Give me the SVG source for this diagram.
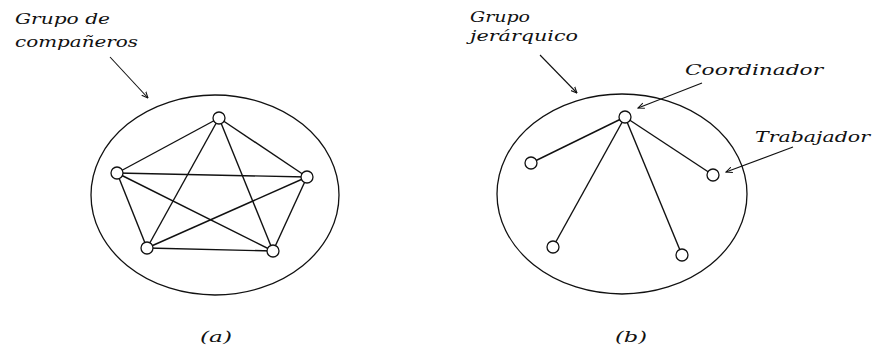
<svg xmlns="http://www.w3.org/2000/svg" width="874" height="349" viewBox="0 0 874 349">
<style>
.b{fill:none;stroke:#111;stroke-width:1.3}
.e{stroke:#111;stroke-width:1.4;fill:none}
.n{fill:#fff;stroke:#111;stroke-width:1.3}
.a{stroke:#111;stroke-width:1.1;fill:none;marker-end:url(#ah)}
text{font-family:"DejaVu Serif","Liberation Serif",serif;font-style:italic;font-size:15px;fill:#111}
</style>
<defs>
<marker id="ah" viewBox="0 0 10 10" refX="9" refY="5" markerWidth="7" markerHeight="7" orient="auto" markerUnits="userSpaceOnUse">
<path d="M0,1 L9,5 L0,9" fill="none" stroke="#111" stroke-width="1.5"/>
</marker>
</defs>
<rect width="874" height="349" fill="#fff"/>
<g id="groupA">
<ellipse class="b" cx="215" cy="195" rx="124" ry="100"/>
</g>
<g id="groupB">
<ellipse class="b" cx="622" cy="194" rx="125" ry="100"/>
</g>
<g id="connectors">
<line class="e" x1="219" y1="118" x2="117" y2="173"/>
<line class="e" x1="219" y1="118" x2="307" y2="177"/>
<line class="e" x1="219" y1="118" x2="147" y2="248"/>
<line class="e" x1="219" y1="118" x2="273" y2="251"/>
<line class="e" x1="117" y1="173" x2="307" y2="177"/>
<line class="e" x1="117" y1="173" x2="147" y2="248"/>
<line class="e" x1="117" y1="173" x2="273" y2="251"/>
<line class="e" x1="307" y1="177" x2="147" y2="248"/>
<line class="e" x1="307" y1="177" x2="273" y2="251"/>
<line class="e" x1="147" y1="248" x2="273" y2="251"/>
<line class="e" x1="625" y1="117" x2="531" y2="163"/>
<line class="e" x1="625" y1="117" x2="713" y2="175"/>
<line class="e" x1="625" y1="117" x2="553" y2="247"/>
<line class="e" x1="625" y1="117" x2="682" y2="255"/>
<line class="a" x1="110" y1="57" x2="148" y2="98"/>
<line class="a" x1="540" y1="55" x2="577" y2="93"/>
<line class="a" x1="702" y1="83" x2="638" y2="108"/>
<line class="a" x1="793" y1="147" x2="726" y2="172"/>
</g>
<g id="nodesA">
<circle id="a1" class="n" cx="219" cy="118" r="6"/>
<circle id="a2" class="n" cx="117" cy="173" r="6"/>
<circle id="a3" class="n" cx="307" cy="177" r="6"/>
<circle id="a4" class="n" cx="147" cy="248" r="6"/>
<circle id="a5" class="n" cx="273" cy="251" r="6"/>
</g>
<g id="nodesB">
<circle id="coord" class="n" cx="625" cy="117" r="6"/>
<circle id="b2" class="n" cx="531" cy="163" r="6"/>
<circle id="b3" class="n" cx="713" cy="175" r="6"/>
<circle id="b4" class="n" cx="553" cy="247" r="6"/>
<circle id="b5" class="n" cx="682" cy="255" r="6"/>
</g>
<g id="labels">
<text x="15" y="24" textLength="95" lengthAdjust="spacingAndGlyphs">Grupo de</text>
<text x="15" y="47" textLength="123" lengthAdjust="spacingAndGlyphs">compañeros</text>
<text x="470" y="22" textLength="60" lengthAdjust="spacingAndGlyphs">Grupo</text>
<text x="470" y="41" textLength="108" lengthAdjust="spacingAndGlyphs">jerárquico</text>
<text x="685" y="75" textLength="138" lengthAdjust="spacingAndGlyphs">Coordinador</text>
<text x="755" y="142" textLength="115" lengthAdjust="spacingAndGlyphs">Trabajador</text>
<text x="200" y="342" textLength="32" lengthAdjust="spacingAndGlyphs">(a)</text>
<text x="615" y="342" textLength="32" lengthAdjust="spacingAndGlyphs">(b)</text>
</g>
</svg>
